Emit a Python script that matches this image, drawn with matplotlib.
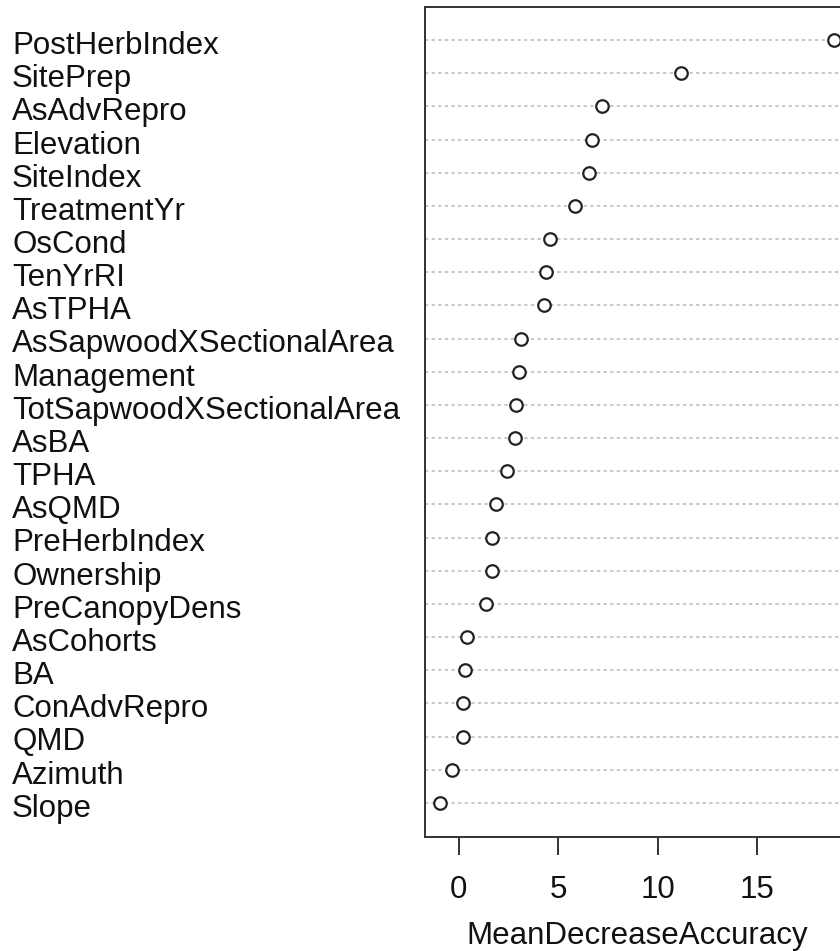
import matplotlib.pyplot as plt
import matplotlib.transforms as mtransforms

# variable importance from the random forest, top to bottom
variables = ["PostHerbIndex", "SitePrep", "AsAdvRepro", "Elevation", "SiteIndex",
             "TreatmentYr", "OsCond", "TenYrRI", "AsTPHA", "AsSapwoodXSectionalArea",
             "Management", "TotSapwoodXSectionalArea", "AsBA", "TPHA", "AsQMD",
             "PreHerbIndex", "Ownership", "PreCanopyDens", "AsCohorts", "BA",
             "ConAdvRepro", "QMD", "Azimuth", "Slope"]
mda = [18.86, 11.16, 7.22, 6.72, 6.53, 5.83, 4.61, 4.41, 4.31, 3.12,
       3.02, 2.90, 2.81, 2.41, 1.89, 1.69, 1.69, 1.39, 0.40, 0.30,
       0.20, 0.20, -0.32, -0.92]
xticks = [0, 5, 10, 15]

plt.rcParams["font.family"] = ["Liberation Sans", "DejaVu Sans"]

fig = plt.figure(figsize=(8.4, 9.51), dpi=100)
# plot region runs past the right edge, like the cropped R device
ax = fig.add_axes([424.5 / 840, 114 / 951, 425.5 / 840, 830 / 951])

n = len(variables)
ypos = list(range(n, 0, -1))

for y in ypos:
    ax.axhline(y, color="#c8c8c8", lw=1.4, ls=(0, (1.7, 1.7)), zorder=1)
ax.plot(mda, ypos, "o", ms=9, mfc="white", mec="#222222", mew=1.6,
        ls="none", zorder=3)

ax.set_ylim(-0.03, n + 1)
lo, hi = min(mda), max(mda)
pad = 0.04 * (hi - lo)
ax.set_xlim(lo - pad, hi + pad)

# row labels: figure x, data y, baseline a bit under the dotted line
ax.set_yticks([])
label_tf = mtransforms.blended_transform_factory(fig.transFigure, ax.transData)
label_tf = label_tf + mtransforms.ScaledTranslation(0, -10 / 72, fig.dpi_scale_trans)
for y, name in zip(ypos, variables):
    ax.text(12 / 840, y, name, transform=label_tf, fontsize=22.5,
            ha="left", va="baseline", color="#111111")

ax.set_xticks(xticks)
ax.set_xticklabels([str(v) for v in xticks])
ax.tick_params(axis="x", length=13, width=1.4, color="#333333", labelsize=22.5,
               pad=14, labelcolor="#111111")
ax.set_xlabel("MeanDecreaseAccuracy", fontsize=22.5, labelpad=12, color="#111111")

for side in ["left", "top", "bottom"]:
    ax.spines[side].set_linewidth(1.4)
    ax.spines[side].set_color("#333333")
ax.spines["right"].set_visible(False)

fig.savefig("out.png", dpi=100)
